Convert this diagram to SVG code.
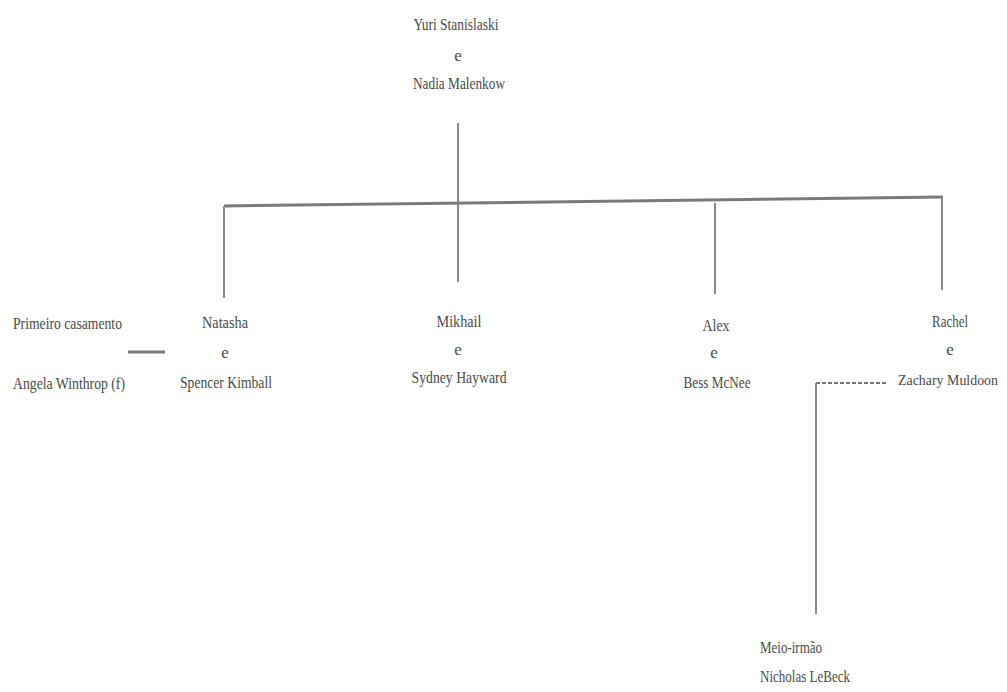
<svg xmlns="http://www.w3.org/2000/svg" width="1007" height="692" viewBox="0 0 1007 692">
<style>
text{font-family:"Liberation Serif","Times New Roman",serif;font-size:17px;fill:#4a4a4a;text-anchor:middle}
.l{text-anchor:start}
.c{stroke:#8a8a8a;stroke-width:2;fill:none}
.h{stroke:#7a7a7a;stroke-width:3;fill:none}
.d{stroke:#777;stroke-width:2;fill:none;stroke-dasharray:4 2}
</style>
<rect width="1007" height="692" fill="#fff"/>
<g id="connectors">
<line class="c" x1="458" y1="123" x2="458" y2="282"/>
<path class="h" d="M224 206 L943 197"/>
<line class="c" x1="224" y1="206" x2="224" y2="298"/>
<line class="c" x1="715" y1="203" x2="715" y2="294"/>
<line class="c" x1="942" y1="198" x2="942" y2="290"/>
<line class="h" x1="128" y1="352" x2="165" y2="352"/>
<line class="d" x1="816" y1="383" x2="888" y2="383"/>
<line class="c" x1="816" y1="383" x2="816" y2="614"/>
</g>
<g id="parents">
<text x="456" y="30" textLength="85" lengthAdjust="spacingAndGlyphs">Yuri Stanislaski</text>
<text x="458" y="61">e</text>
<text x="459" y="89" textLength="92" lengthAdjust="spacingAndGlyphs">Nadia Malenkow</text>
</g>
<g id="first-marriage">
<text class="l" x="13" y="329" textLength="109" lengthAdjust="spacingAndGlyphs">Primeiro casamento</text>
<text class="l" x="13" y="389" textLength="112" lengthAdjust="spacingAndGlyphs">Angela Winthrop (f)</text>
</g>
<g id="natasha">
<text x="225" y="328" textLength="46" lengthAdjust="spacingAndGlyphs">Natasha</text>
<text x="225" y="358">e</text>
<text x="226" y="388" textLength="92" lengthAdjust="spacingAndGlyphs">Spencer Kimball</text>
</g>
<g id="mikhail">
<text x="459" y="327" textLength="45" lengthAdjust="spacingAndGlyphs">Mikhail</text>
<text x="458" y="355">e</text>
<text x="459" y="383" textLength="95" lengthAdjust="spacingAndGlyphs">Sydney Hayward</text>
</g>
<g id="alex">
<text x="716" y="331" textLength="27" lengthAdjust="spacingAndGlyphs">Alex</text>
<text x="714" y="358">e</text>
<text x="717" y="388" textLength="67" lengthAdjust="spacingAndGlyphs">Bess McNee</text>
</g>
<g id="rachel">
<text x="950" y="327" textLength="36" lengthAdjust="spacingAndGlyphs">Rachel</text>
<text x="950" y="355">e</text>
<text x="948" y="385" style="font-size:15px" textLength="100" lengthAdjust="spacingAndGlyphs">Zachary Muldoon</text>
</g>
<g id="half-brother">
<text class="l" x="760" y="653" textLength="62" lengthAdjust="spacingAndGlyphs">Meio-irmão</text>
<text class="l" x="760" y="682" textLength="90" lengthAdjust="spacingAndGlyphs">Nicholas LeBeck</text>
</g>
</svg>
